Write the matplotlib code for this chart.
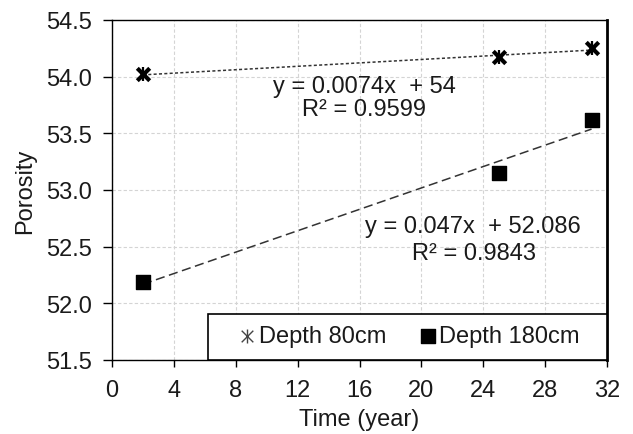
import numpy as np
import matplotlib
matplotlib.use("Agg")
import matplotlib.pyplot as plt
from matplotlib.patches import Rectangle

plt.rcParams['font.family'] = ['Liberation Sans', 'DejaVu Sans']

time_80 = [2, 25, 31]
por_80 = [54.02, 54.17, 54.25]
time_180 = [2, 25, 31]
por_180 = [52.19, 53.15, 53.62]
eq_80 = ["y = 0.0074x  + 54", "R² = 0.9599"]
eq_180 = ["y = 0.047x  + 52.086", "R² = 0.9843"]
xticks = list(range(0, 33, 4))
yticks = [51.5, 52.0, 52.5, 53.0, 53.5, 54.0, 54.5]

W, H = 633, 435
fig = plt.figure(figsize=(W/100, H/100), dpi=100)
L, R, T, B = 112, 607, 21, 361
ax = fig.add_axes([L/W, 1-B/H, (R-L)/W, (B-T)/H])

FS = 17
TXT = '#1a1a1a'
ax.set_xlim(0, 32)
ax.set_ylim(51.5, 54.5)
ax.set_xticks(xticks)
ax.set_yticks(yticks)
ax.set_yticklabels([f"{v:.1f}" for v in yticks])
ax.grid(True, color='#d4d4d4', linestyle=(0, (3, 2)), linewidth=0.8)
ax.set_axisbelow(True)
for s in ax.spines.values():
    s.set_color('black')
    s.set_linewidth(1.0)
ax.spines['right'].set_linewidth(2.0)
ax.tick_params(direction='out', labelsize=FS, colors='black', labelcolor=TXT, width=1)
ax.tick_params(axis='y', length=6.5, pad=8)
ax.tick_params(axis='x', length=5, pad=8.5)

# trend lines
for t, p, ls in [(time_80, por_80, (0, (2, 1.5))), (time_180, por_180, (0, (6, 3)))]:
    c = np.polyfit(t, p, 1)
    xs = np.array([min(t), max(t)])
    ax.plot(xs, np.polyval(c, xs), color='#333333', linestyle=ls, linewidth=1.1, zorder=2)

ax.scatter(time_80, por_80, marker='x', s=80, color='black', linewidths=3.0, zorder=3)
ax.scatter(time_80, por_80, marker='|', s=110, color='black', linewidths=1.6, zorder=3)
ax.scatter(time_180, por_180, marker='s', s=110, color='black', zorder=3)

ax.text(16.3, 53.92, eq_80[0], fontsize=FS, ha='center', va='center', color=TXT)
ax.text(16.3, 53.715, eq_80[1], fontsize=FS, ha='center', va='center', color=TXT)
ax.text(23.34, 52.68, eq_180[0], fontsize=FS, ha='center', va='center', color=TXT)
ax.text(23.4, 52.445, eq_180[1], fontsize=FS, ha='center', va='center', color=TXT)

# legend box
ax.add_patch(Rectangle((6.2, 51.5), 32 - 6.2, 0.406, transform=ax.transData,
                       facecolor='white', edgecolor='black', linewidth=1.2, zorder=4, clip_on=False))
ax.scatter([8.73], [51.712], marker='x', s=70, color='#444444', linewidths=1.0, zorder=5)
ax.scatter([8.73], [51.712], marker='|', s=100, color='#444444', linewidths=1.0, zorder=5)
ax.text(9.5, 51.712, "Depth 80cm", fontsize=FS, va='center', ha='left', zorder=5, color=TXT)
ax.scatter([20.43], [51.712], marker='s', s=110, color='black', zorder=5)
ax.text(21.15, 51.712, "Depth 180cm", fontsize=FS, va='center', ha='left', zorder=5, color=TXT)

ax.set_xlabel("Time (year)", fontsize=FS, labelpad=5, color=TXT)
ax.set_ylabel("Porosity", fontsize=FS, color=TXT)
ax.yaxis.set_label_coords(-0.154, 0.5)

fig.savefig("out.png", dpi=100)
